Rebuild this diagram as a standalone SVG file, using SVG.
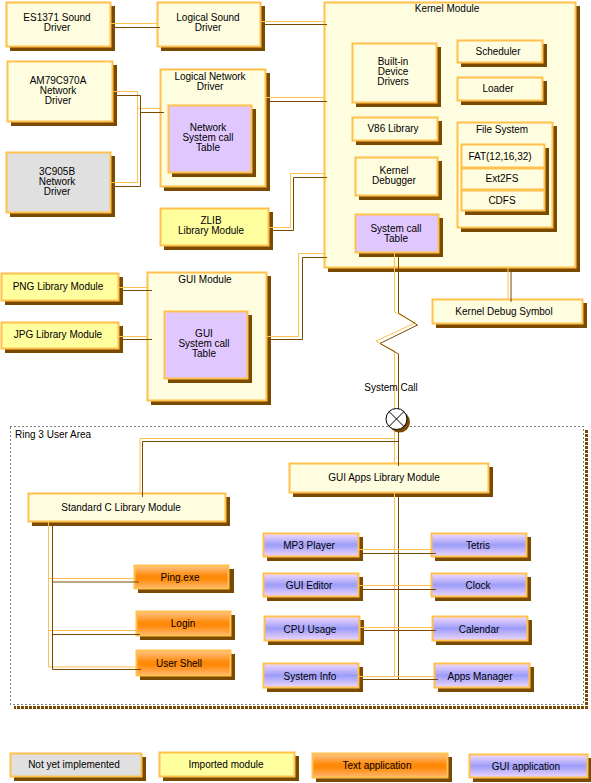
<svg xmlns="http://www.w3.org/2000/svg" width="591" height="783" viewBox="0 0 591 783">
<defs>
<linearGradient id="gOr" x1="0" y1="0" x2="0" y2="1">
<stop offset="0" stop-color="#FFC58A"/><stop offset="0.45" stop-color="#FF8A0A"/><stop offset="0.6" stop-color="#FF8A0A"/><stop offset="1" stop-color="#FFB870"/>
</linearGradient>
<linearGradient id="gGui" x1="0" y1="0" x2="0" y2="1">
<stop offset="0" stop-color="#F4DCFF"/><stop offset="0.5" stop-color="#9C9CF8"/><stop offset="1" stop-color="#F0D8FF"/>
</linearGradient>
<style>
.b{stroke:#FFC04C;stroke-width:2}
.cr{fill:#FFFDE0}
.im{fill:#FFFFA0}
.gy{fill:#E0E0E0}
.pu{fill:#E0C8FF}
.ta{fill:url(#gOr)}
.ga{fill:url(#gGui)}
.sh{fill:#7A4A00}
.co{stroke:#FFC04C;fill:none;stroke-width:1}
.cd{stroke:#7A4A00;fill:none;stroke-width:1}
text{font-family:"Liberation Sans",Arial,sans-serif;font-size:10px;fill:#000;text-anchor:middle}
.l{text-anchor:start}
</style>
</defs>
<rect width="591" height="783" fill="#FFFFFF"/>

<!-- Ring 3 area -->
<g id="ring3">
<path d="M586.5,430 V707.5 H14" fill="none" stroke="#7A4A00" stroke-width="3" stroke-dasharray="3 1"/>
<rect x="10.5" y="426.5" width="573" height="278" fill="none" stroke="#000" stroke-width="1" stroke-dasharray="1 3"/>
<text class="l" x="15" y="438">Ring 3 User Area</text>
</g>

<!-- Nodes -->
<g id="es1371"><rect class="sh" x="10" y="6" width="105" height="45"/><rect class="b cr" x="6.5" y="2.5" width="104" height="44"/><text x="57" y="21">ES1371 Sound</text><text x="57" y="31">Driver</text></g>
<g id="logsound"><rect class="sh" x="161" y="6" width="104" height="45"/><rect class="b cr" x="157.5" y="2.5" width="103" height="44"/><text x="208" y="21">Logical Sound</text><text x="208" y="31">Driver</text></g>
<g id="am79c970a"><rect class="sh" x="11" y="65" width="106" height="61"/><rect class="b cr" x="7.5" y="61.5" width="105" height="60"/><text x="58" y="84">AM79C970A</text><text x="58" y="94">Network</text><text x="58" y="104">Driver</text></g>
<g id="c905b"><rect class="sh" x="10" y="156" width="105" height="61"/><rect class="b gy" x="6.5" y="152.5" width="104" height="60"/><text x="57" y="175">3C905B</text><text x="57" y="185">Network</text><text x="57" y="195">Driver</text></g>
<g id="lognet"><rect class="sh" x="164" y="73" width="106" height="118"/><rect class="b cr" x="160.5" y="69.5" width="105" height="117"/><text x="210" y="80">Logical Network</text><text x="210" y="90">Driver</text>
<g id="netsct"><rect class="sh" x="172" y="109" width="84" height="68"/><rect class="b pu" x="168.5" y="105.5" width="83" height="67"/><text x="208" y="131">Network</text><text x="208" y="141">System call</text><text x="208" y="151">Table</text></g></g>
<g id="zlib"><rect class="sh" x="164" y="212" width="109" height="38"/><rect class="b im" x="160.5" y="208.5" width="108" height="37"/><text x="211" y="224">ZLIB</text><text x="211" y="234">Library Module</text></g>

<g id="kernel"><rect class="sh" x="328" y="6" width="252" height="266"/><rect class="b cr" x="324.5" y="2.5" width="251" height="265"/><text x="447" y="12">Kernel Module</text>
<g id="builtin"><rect class="sh" x="356" y="47" width="85" height="60"/><rect class="b cr" x="352.5" y="43.5" width="84" height="59"/><text x="393" y="65">Built-in</text><text x="393" y="75">Device</text><text x="393" y="85">Drivers</text></g>
<g id="scheduler"><rect class="sh" x="461" y="44" width="86" height="23"/><rect class="b cr" x="457.5" y="40.5" width="85" height="22"/><text x="498" y="55">Scheduler</text></g>
<g id="loader"><rect class="sh" x="461" y="81" width="86" height="24"/><rect class="b cr" x="457.5" y="77.5" width="85" height="23"/><text x="498" y="92">Loader</text></g>
<g id="v86"><rect class="sh" x="356" y="121" width="86" height="24"/><rect class="b cr" x="352.5" y="117.5" width="85" height="23"/><text x="393" y="132">V86 Library</text></g>
<g id="kdebug"><rect class="sh" x="359" y="161" width="83" height="39"/><rect class="b cr" x="355.5" y="157.5" width="82" height="38"/><text x="394" y="174">Kernel</text><text x="394" y="184">Debugger</text></g>
<g id="syscalltable"><rect class="sh" x="359" y="218" width="84" height="39"/><rect class="b pu" x="355.5" y="214.5" width="83" height="38"/><text x="396" y="232">System call</text><text x="396" y="242">Table</text></g>
<g id="filesystem"><rect class="sh" x="461" y="126" width="96" height="106"/><rect class="b cr" x="457.5" y="122.5" width="95" height="105"/><text x="502" y="133">File System</text>
<g id="fat"><rect class="sh" x="465" y="148" width="84" height="24"/><rect class="b cr" x="461.5" y="144.5" width="83" height="23"/><text x="500" y="160">FAT(12,16,32)</text></g>
<g id="ext2fs"><rect class="sh" x="465" y="172" width="84" height="22"/><rect class="b cr" x="461.5" y="168.5" width="83" height="21"/><text x="502" y="182">Ext2FS</text></g>
<g id="cdfs"><rect class="sh" x="465" y="194" width="84" height="21"/><rect class="b cr" x="461.5" y="190.5" width="83" height="20"/><text x="502" y="204">CDFS</text></g></g></g>

<g id="kds"><rect class="sh" x="436" y="303" width="151" height="25"/><rect class="b cr" x="432.5" y="299.5" width="150" height="24"/><text x="504" y="315">Kernel Debug Symbol</text></g>
<g id="png"><rect class="sh" x="5" y="277" width="118" height="28"/><rect class="b im" x="1.5" y="273.5" width="117" height="27"/><text x="58" y="290">PNG Library Module</text></g>
<g id="jpg"><rect class="sh" x="5" y="326" width="118" height="27"/><rect class="b im" x="1.5" y="322.5" width="117" height="26"/><text x="58" y="338">JPG Library Module</text></g>
<g id="guimodule"><rect class="sh" x="151" y="276" width="120" height="129"/><rect class="b cr" x="147.5" y="272.5" width="119" height="128"/><text x="205" y="283">GUI Module</text>
<g id="guisct"><rect class="sh" x="168" y="315" width="84" height="68"/><rect class="b pu" x="164.5" y="311.5" width="83" height="67"/><text x="204" y="337">GUI</text><text x="204" y="347">System call</text><text x="204" y="357">Table</text></g></g>

<g id="stdc"><rect class="sh" x="32" y="497" width="198" height="29"/><rect class="b cr" x="28.5" y="493.5" width="197" height="28"/><text x="121" y="511">Standard C Library Module</text></g>
<g id="ping"><rect class="sh" x="138" y="569" width="96" height="24"/><rect class="b ta" x="134.5" y="565.5" width="94" height="23"/><text x="180" y="581">Ping.exe</text></g>
<g id="login"><rect class="sh" x="140" y="615" width="95" height="25"/><rect class="b ta" x="136.5" y="611.5" width="94" height="24"/><text x="183" y="627">Login</text></g>
<g id="usershell"><rect class="sh" x="140" y="654" width="95" height="26"/><rect class="b ta" x="136.5" y="650.5" width="94" height="25"/><text x="179" y="667">User Shell</text></g>
<g id="guiapps"><rect class="sh" x="293" y="467" width="200" height="30"/><rect class="b cr" x="289.5" y="463.5" width="199" height="29"/><text x="384" y="481">GUI Apps Library Module</text></g>
<g id="mp3"><rect class="sh" x="267" y="537" width="96" height="24"/><rect class="b ga" x="263.5" y="533.5" width="95" height="23"/><text x="309" y="549">MP3 Player</text></g>
<g id="tetris"><rect class="sh" x="435" y="537" width="96" height="24"/><rect class="b ga" x="431.5" y="533.5" width="95" height="23"/><text x="478" y="549">Tetris</text></g>
<g id="guieditor"><rect class="sh" x="267" y="577" width="96" height="24"/><rect class="b ga" x="263.5" y="573.5" width="95" height="23"/><text x="309" y="589">GUI Editor</text></g>
<g id="clock"><rect class="sh" x="435" y="577" width="96" height="24"/><rect class="b ga" x="431.5" y="573.5" width="95" height="23"/><text x="478" y="589">Clock</text></g>
<g id="cpuusage"><rect class="sh" x="268" y="620" width="96" height="25"/><rect class="b ga" x="264.5" y="616.5" width="95" height="24"/><text x="310" y="633">CPU Usage</text></g>
<g id="calendar"><rect class="sh" x="436" y="620" width="96" height="25"/><rect class="b ga" x="432.5" y="616.5" width="95" height="24"/><text x="479" y="633">Calendar</text></g>
<g id="sysinfo"><rect class="sh" x="267" y="667" width="96" height="25"/><rect class="b ga" x="263.5" y="663.5" width="95" height="24"/><text x="310" y="680">System Info</text></g>
<g id="appsmanager"><rect class="sh" x="438" y="667" width="96" height="25"/><rect class="b ga" x="434.5" y="663.5" width="95" height="24"/><text x="480" y="680">Apps Manager</text></g>

<!-- Connectors -->
<g id="connectors">
<path class="co" d="M111,23.5 H157"/><path class="cd" d="M115,27.5 H160"/>
<path class="co" d="M261,21.5 H325"/><path class="cd" d="M265,24.5 H327"/>
<path class="co" d="M113,91.5 H137.5 V182.5 H111 M137.5,108.5 H160"/><path class="cd" d="M117,95.5 H140.5 V186.5 H115 M140.5,112.5 H164"/>
<path class="co" d="M266,97.5 H325"/><path class="cd" d="M270,101.5 H327"/>
<path class="co" d="M269,227.5 H290.5 V173.5 H325"/><path class="cd" d="M273,230.5 H293.5 V177.5 H327"/>
<path class="co" d="M267,336.5 H298.5 V253.5 H325"/><path class="cd" d="M271,339.5 H302.5 V257.5 H327"/>
<path class="co" d="M119,287.5 H148"/><path class="cd" d="M123,290.5 H152"/>
<path class="co" d="M119,336.5 H148"/><path class="cd" d="M123,339.5 H152"/>
<path class="co" d="M508,268 V300"/><path class="cd" d="M511,271 V302"/>
<path class="co" d="M394.5,253 V312 L415,323 L376,341 L394.5,351 V410"/>
<path class="cd" d="M398.5,256 V313 L417.5,325 L380,343.5 L398.5,354 V410"/>
<path class="co" d="M394.5,428 V464"/><path class="cd" d="M398.5,428 V466"/>
<path class="co" d="M140,493 V438.5 H394.5"/><path class="cd" d="M142.5,497 V441.5 H398.5"/>
<path class="co" d="M394.5,493 V676.5"/><path class="cd" d="M398.5,494 V679.5"/>
<path class="co" d="M48.5,522 V667 M48.5,578.5 H135 M48.5,630.5 H137 M48.5,667 H137"/>
<path class="cd" d="M52.5,524 V669.5 H141 M52.5,582 H139 M52.5,634.5 H140"/>
<path class="co" d="M359,549.5 H432"/><path class="cd" d="M363,553.5 H436"/>
<path class="co" d="M359,585.5 H432"/><path class="cd" d="M363,589.5 H436"/>
<path class="co" d="M360,627.5 H432"/><path class="cd" d="M364,630.5 H436"/>
<path class="co" d="M359,676.5 H434"/><path class="cd" d="M363,679.5 H438"/>
<text x="391" y="391">System Call</text>
</g>

<g id="syscall-junction">
<circle cx="399.5" cy="422" r="10.5" fill="#7A4A00"/>
<circle cx="396.5" cy="419" r="10.5" fill="#FFFFFF" stroke="#000" stroke-width="1"/>
<path d="M389.1,411.6 L403.9,426.4 M403.9,411.6 L389.1,426.4" stroke="#000" stroke-width="1"/>
</g>

<!-- Legend -->
<g id="legend">
<g id="lg-notyet"><rect class="sh" x="14" y="757" width="132" height="24"/><rect class="b gy" x="10.5" y="753.5" width="131" height="23"/><text x="74" y="768">Not yet implemented</text></g>
<g id="lg-imported"><rect class="sh" x="163" y="756" width="136" height="25"/><rect class="b im" x="159.5" y="752.5" width="135" height="24"/><text x="226" y="768">Imported module</text></g>
<g id="lg-text"><rect class="sh" x="316" y="757" width="136" height="25"/><rect class="b ta" x="312.5" y="753.5" width="135" height="24"/><text x="377" y="769">Text application</text></g>
<g id="lg-gui"><rect class="sh" x="473" y="758" width="119" height="24"/><rect class="b ga" x="469.5" y="754.5" width="118" height="23"/><text x="526" y="770">GUI application</text></g>
</g>
</svg>
